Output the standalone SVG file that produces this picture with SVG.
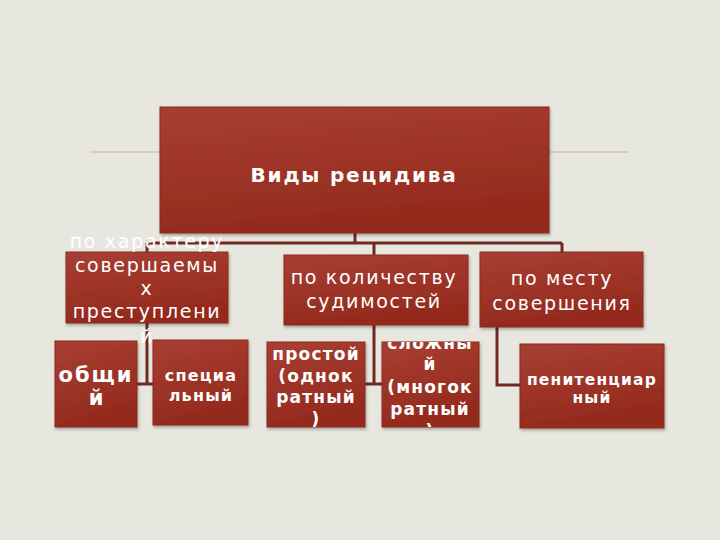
<svg xmlns="http://www.w3.org/2000/svg" width="720" height="540" viewBox="0 0 720 540">
<defs>
<linearGradient id="g" x1="0" y1="0" x2="0.3" y2="1">
<stop offset="0" stop-color="#a83f33"/>
<stop offset="1" stop-color="#942a1d"/>
</linearGradient>
<filter id="sh" x="-10%" y="-10%" width="130%" height="130%">
<feDropShadow dx="1" dy="2" stdDeviation="1.5" flood-color="#000" flood-opacity="0.3"/>
</filter>
<clipPath id="c5"><rect x="382" y="342" width="97" height="85"/></clipPath>
<clipPath id="c4"><rect x="267" y="342" width="98" height="85"/></clipPath>
</defs>
<style>
.box{fill:url(#g);stroke:#8a2a1f;stroke-width:1;filter:url(#sh)}
.con{fill:none;stroke:#6e2a22;stroke-width:3}
text{font-family:"DejaVu Sans","Noto Sans",sans-serif;fill:#fff;text-anchor:middle}
.l2{font-size:19px;letter-spacing:1.7px}
.b{font-weight:bold;font-size:17px;letter-spacing:1.2px}
</style>
<rect width="720" height="540" fill="#e8e7df"/>
<line x1="90" y1="152" x2="628" y2="152" stroke="#cdb98c" stroke-width="1.2"/>
<g id="connectors">
<path class="con" d="M355 233V243M147 243H562M147 243V252M374 243V255M562 243V252"/>
<path class="con" d="M147 323V384M137 384H153"/>
<path class="con" d="M374 325V384M365 384H382"/>
<path class="con" d="M497 327V385H520"/>
</g>
<g id="root">
<rect class="box" x="160" y="107" width="389" height="126"/>
<text x="354" y="182" style="font-weight:bold;font-size:20px;letter-spacing:1.8px">Виды рецидива</text>
</g>
<g id="n1">
<rect class="box" x="66" y="252" width="162" height="71"/>
<text class="l2" x="147" y="248">по характеру</text>
<text class="l2" x="147" y="272">совершаемы</text>
<text class="l2" x="147" y="295">х</text>
<text class="l2" x="147" y="318">преступлени</text>
<text class="l2" x="147" y="343">й</text>
</g>
<g id="n2">
<rect class="box" x="284" y="255" width="184" height="70"/>
<text class="l2" x="374" y="284">по количеству</text>
<text class="l2" x="374" y="308">судимостей</text>
</g>
<g id="n3">
<rect class="box" x="480" y="252" width="163" height="75"/>
<text class="l2" x="562" y="285">по месту</text>
<text class="l2" x="562" y="310">совершения</text>
</g>
<g id="n4">
<rect class="box" x="55" y="341" width="82" height="86"/>
<text x="96" y="382" style="font-weight:bold;font-size:21px;letter-spacing:2px">общи</text>
<text x="96" y="405" style="font-weight:bold;font-size:21px">й</text>
</g>
<g id="n5">
<rect class="box" x="153" y="340" width="95" height="85"/>
<text class="b" x="201" y="381" style="font-size:16px">специа</text>
<text class="b" x="201" y="401" style="font-size:16px">льный</text>
</g>
<g id="n6">
<rect class="box" x="267" y="342" width="98" height="85"/>
<g clip-path="url(#c4)">
<text class="b" x="316" y="360">простой</text>
<text class="b" x="316" y="382">(однок</text>
<text class="b" x="316" y="403">ратный</text>
<text class="b" x="316" y="425">)</text>
</g>
</g>
<g id="n7">
<rect class="box" x="382" y="342" width="97" height="85"/>
<g clip-path="url(#c5)">
<text class="b" x="430" y="349">сложны</text>
<text class="b" x="430" y="370">й</text>
<text class="b" x="430" y="393">(многок</text>
<text class="b" x="430" y="415">ратный</text>
<text class="b" x="430" y="437">)</text>
</g>
</g>
<g id="n8">
<rect class="box" x="520" y="344" width="144" height="84"/>
<text class="b" x="592" y="385" style="font-size:15.5px">пенитенциар</text>
<text class="b" x="592" y="403" style="font-size:15.5px">ный</text>
</g>
</svg>
